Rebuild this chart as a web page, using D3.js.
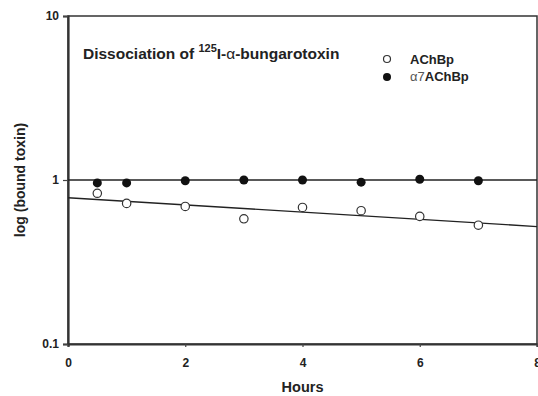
<!DOCTYPE html>
<html>
<head>
<meta charset="utf-8">
<script src="https://cdn.jsdelivr.net/npm/d3@7"></script>
<style>
  body { margin: 0; background: #fff; }
  svg { font-family: Arial, "Liberation Sans", sans-serif; }
</style>
</head>
<body>
<svg width="538" height="396"></svg>
<script>
// data
const hoursA = [0.5, 1, 2, 3, 4, 5, 6, 7];
const achbp = [0.83, 0.72, 0.69, 0.58, 0.68, 0.65, 0.60, 0.53];
const hoursB = [0.5, 1, 2, 3, 4, 5, 6, 7];
const a7achbp = [0.96, 0.96, 0.99, 1.0, 1.0, 0.97, 1.01, 0.99];
const fitA = [[0, 0.78], [8, 0.52]];
const fitB = [[0, 1.0], [8, 1.0]];
const xTicks = [0, 2, 4, 6, 8];
const yTicks = [0.1, 1, 10];

const margin = { top: 16, right: 1, bottom: 52, left: 68 },
      width = 538 - margin.left - margin.right,
      height = 396 - margin.top - margin.bottom;

const svg = d3.select("svg")
    .append("g")
    .attr("transform", `translate(${margin.left},${margin.top})`);

const x = d3.scaleLinear().domain([0, 8]).range([0, width]);
const y = d3.scaleLog().domain([0.1, 10]).range([height, 0]);

// frame (top and right)
svg.append("rect")
    .attr("width", width)
    .attr("height", height)
    .attr("fill", "none")
    .attr("stroke", "#333")
    .attr("stroke-width", 1.5);

const xAxis = svg.append("g")
    .attr("transform", `translate(0,${height})`)
    .call(d3.axisBottom(x).tickValues(xTicks).tickFormat(d3.format("d")).tickSize(3).tickPadding(11));

const yAxis = svg.append("g")
    .call(d3.axisLeft(y).tickValues(yTicks).tickFormat(d => d).tickSize(5).tickPadding(4));

[xAxis, yAxis].forEach(a => {
    a.select(".domain").attr("stroke", "#333").attr("stroke-width", 2.2);
    a.selectAll(".tick line").attr("stroke", "#444").attr("stroke-width", 1.2);
    a.selectAll("text")
        .style("font-size", "12px")
        .style("font-weight", "bold")
        .attr("fill", "#222");
});

// axis titles
svg.append("text")
    .attr("x", x(4))
    .attr("y", height + 48)
    .attr("text-anchor", "middle")
    .style("font-size", "14.5px")
    .style("font-weight", "bold")
    .attr("fill", "#222")
    .text("Hours");

svg.append("text")
    .attr("transform", "rotate(-90)")
    .attr("x", -(y(1)))
    .attr("y", -margin.left + 25)
    .attr("text-anchor", "middle")
    .style("font-size", "14px")
    .style("font-weight", "bold")
    .attr("fill", "#222")
    .text("log (bound toxin)");

// fit lines
const line = d3.line().x(d => x(d[0])).y(d => y(d[1]));
[fitA, fitB].forEach(f => {
    svg.append("path")
        .attr("d", line(f))
        .attr("fill", "none")
        .attr("stroke", "#222")
        .attr("stroke-width", 1.4);
});

// points
svg.selectAll(".ptB")
    .data(hoursB.map((h, i) => [h, a7achbp[i]]))
    .enter().append("circle")
    .attr("class", "ptB")
    .attr("cx", d => x(d[0]))
    .attr("cy", d => y(d[1]))
    .attr("r", 4.5)
    .attr("fill", "#111");

svg.selectAll(".ptA")
    .data(hoursA.map((h, i) => [h, achbp[i]]))
    .enter().append("circle")
    .attr("class", "ptA")
    .attr("cx", d => x(d[0]))
    .attr("cy", d => y(d[1]))
    .attr("r", 4.2)
    .attr("fill", "#fff")
    .attr("stroke", "#333")
    .attr("stroke-width", 1.2);

// title
const title = svg.append("text")
    .attr("x", 15)
    .attr("y", 43)
    .style("font-size", "15.5px")
    .style("font-weight", "bold")
    .attr("fill", "#222");
title.append("tspan").text("Dissociation of ");
title.append("tspan").attr("dy", -7).style("font-size", "11px").text("125");
title.append("tspan").attr("dy", 7).text("I-");
title.append("tspan").style("font-weight", "normal").text("α");
title.append("tspan").text("-bungarotoxin");

// legend
const legend = svg.append("g")
    .attr("transform", `translate(${387 - margin.left}, ${59 - margin.top})`);

legend.append("circle")
    .attr("r", 3.5)
    .attr("fill", "#fff")
    .attr("stroke", "#333")
    .attr("stroke-width", 1.2);
legend.append("text")
    .attr("x", 23)
    .attr("y", 5)
    .style("font-size", "13px")
    .style("font-weight", "bold")
    .attr("fill", "#222")
    .text("AChBp");

legend.append("circle")
    .attr("cy", 18)
    .attr("r", 4)
    .attr("fill", "#111");
const l2 = legend.append("text")
    .attr("x", 23)
    .attr("y", 22)
    .style("font-size", "13px")
    .style("font-weight", "bold")
    .attr("fill", "#222");
l2.append("tspan").style("font-weight", "normal").attr("fill", "#555").text("α7");
l2.append("tspan").text("AChBp");
</script>
</body>
</html>
